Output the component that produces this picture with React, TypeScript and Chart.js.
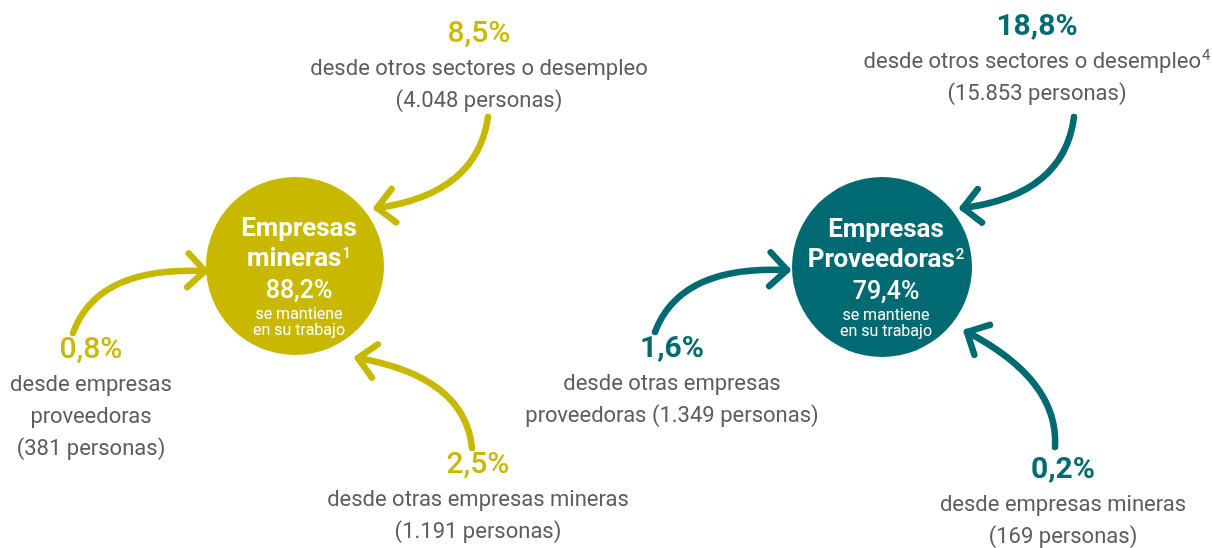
import React, { useEffect, useRef } from 'react';
import { Chart, registerables } from 'chart.js';

Chart.register(...registerables);

// ---------- data ----------
const groupTitles = ['Empresas', 'Empresas'];
const groupSubtitles = ['mineras', 'Proveedoras'];
const groupNotes = ['1', '2'];
const retainedPct = [88.2, 79.4];
const retainedLines = ['se mantiene', 'en su trabajo'];

const mineraInflowPct = [8.5, 0.8, 2.5];
const mineraInflowPeople = [4048, 381, 1191];
const mineraInflowLines = [
  ['desde otros sectores o desempleo', '({n} personas)'],
  ['desde empresas', 'proveedoras', '({n} personas)'],
  ['desde otras empresas mineras', '({n} personas)'],
];
const mineraInflowNotes = ['', '', ''];

const proveedoraInflowPct = [18.8, 1.6, 0.2];
const proveedoraInflowPeople = [15853, 1349, 169];
const proveedoraInflowLines = [
  ['desde otros sectores o desempleo', '({n} personas)'],
  ['desde otras empresas', 'proveedoras ({n} personas)'],
  ['desde empresas mineras', '({n} personas)'],
];
const proveedoraInflowNotes = ['4', '', ''];

// ---------- layout (pixel space of the 1212x548 canvas) ----------
const W = 1212;
const H = 548;
const nodeX = [295, 882];
const nodeY = [266, 267];
const nodeR = [89, 90];
const nodeTextDx = 4;
const nodeLineDy = [-30, 0, 32, 53, 69];

const labelX = [
  [479, 91, 478],
  [1037, 672, 1063],
];
const labelY = [
  [42, 358, 473],
  [35, 357, 478],
];
const arrowStart = [
  [[488, 117], [73, 333], [472, 448]],
  [[1074, 117], [655, 332], [1055, 447]],
];
const arrowCtrl = [
  [[477, 194], [97, 266], [465, 377]],
  [[1064, 195], [680, 265], [1059, 380]],
];
const arrowEnd = [
  [[377, 208], [205, 271], [358, 358]],
  [[963, 208], [787, 270], [967, 332]],
];

// ---------- styles ----------
const COLORS = ['#C8B900', '#006A72'];
const GRAY = '#5C5C5C';
const FONT = 'Roboto, "Noto Sans", "Liberation Sans", sans-serif';
const pctWeight = ['500', 'bold'];

const fmtPct = (v: number) => v.toFixed(1).replace('.', ',') + '%';
const fmtInt = (n: number) => String(n).replace(/\B(?=(\d{3})+(?!\d))/g, '.');

const groups = [
  { pct: mineraInflowPct, people: mineraInflowPeople, lines: mineraInflowLines, notes: mineraInflowNotes },
  { pct: proveedoraInflowPct, people: proveedoraInflowPeople, lines: proveedoraInflowLines, notes: proveedoraInflowNotes },
];

function drawWithSup(ctx: CanvasRenderingContext2D, text: string, sup: string, cx: number, y: number, font: string, supFont: string, supRise: number) {
  ctx.font = font;
  const w1 = ctx.measureText(text).width;
  ctx.font = supFont;
  const w2 = sup ? ctx.measureText(sup).width + 1 : 0;
  const x0 = cx - (w1 + w2) / 2;
  ctx.textAlign = 'left';
  ctx.font = font;
  ctx.fillText(text, x0, y);
  if (sup) {
    ctx.font = supFont;
    ctx.fillText(sup, x0 + w1 + 1, y - supRise);
  }
}

const infographicPlugin = {
  id: 'infographic',
  afterDatasetsDraw(chart: any) {
    const ctx: CanvasRenderingContext2D = chart.ctx;
    const sx = chart.scales.x;
    const sy = chart.scales.y;
    const X = (v: number) => sx.getPixelForValue(v);
    const Y = (v: number) => sy.getPixelForValue(v);
    ctx.save();
    ctx.textBaseline = 'alphabetic';

    groups.forEach((g, gi) => {
      const color = COLORS[gi];
      g.pct.forEach((p, fi) => {
        // arrow
        const s = arrowStart[gi][fi];
        const c = arrowCtrl[gi][fi];
        const e = arrowEnd[gi][fi];
        const sX = X(s[0]), sY = Y(s[1]);
        const cX = X(c[0]), cY = Y(c[1]);
        const eX = X(e[0]), eY = Y(e[1]);
        ctx.strokeStyle = color;
        ctx.lineWidth = 6.5;
        ctx.lineCap = 'round';
        ctx.lineJoin = 'round';
        ctx.beginPath();
        ctx.moveTo(sX, sY);
        ctx.quadraticCurveTo(cX, cY, eX, eY);
        ctx.stroke();
        const ang = Math.atan2(eY - cY, eX - cX);
        const L = 24;
        const spread = 0.78;
        ctx.beginPath();
        ctx.moveTo(eX + L * Math.cos(ang + Math.PI - spread), eY + L * Math.sin(ang + Math.PI - spread));
        ctx.lineTo(eX, eY);
        ctx.lineTo(eX + L * Math.cos(ang + Math.PI + spread), eY + L * Math.sin(ang + Math.PI + spread));
        ctx.stroke();

        // labels
        const lx = X(labelX[gi][fi]);
        const ly = Y(labelY[gi][fi]);
        ctx.fillStyle = color;
        ctx.textAlign = 'center';
        ctx.font = `${pctWeight[gi]} 30px ${FONT}`;
        ctx.fillText(fmtPct(p), lx, ly);
        ctx.fillStyle = GRAY;
        g.lines[fi].forEach((ln, li) => {
          const txt = ln.replace('{n}', fmtInt(g.people[fi]));
          const note = li === 0 ? g.notes[fi] : '';
          drawWithSup(ctx, txt, note, lx, ly + 33 + li * 32, `22px ${FONT}`, `15px ${FONT}`, 8);
        });
      });

      // node text
      const cx = X(nodeX[gi]) + nodeTextDx;
      const cy = Y(nodeY[gi]);
      ctx.fillStyle = '#FFFFFF';
      ctx.textAlign = 'center';
      ctx.font = `bold 26px ${FONT}`;
      ctx.fillText(groupTitles[gi], cx, cy + nodeLineDy[0]);
      drawWithSup(ctx, groupSubtitles[gi], groupNotes[gi], cx, cy + nodeLineDy[1], `bold 26px ${FONT}`, `500 15px ${FONT}`, 8);
      ctx.textAlign = 'center';
      ctx.font = `500 25px ${FONT}`;
      ctx.fillText(fmtPct(retainedPct[gi]), cx, cy + nodeLineDy[2]);
      ctx.font = `16px ${FONT}`;
      ctx.fillText(retainedLines[0], cx, cy + nodeLineDy[3]);
      ctx.fillText(retainedLines[1], cx, cy + nodeLineDy[4]);
    });
    ctx.restore();
  },
};

export default function App() {
  const canvasRef = useRef<HTMLCanvasElement | null>(null);

  useEffect(() => {
    if (!canvasRef.current) return;
    const chart = new Chart(canvasRef.current, {
      type: 'bubble',
      data: {
        datasets: [
          {
            data: nodeX.map((x, i) => ({ x, y: nodeY[i], r: nodeR[i] })),
            backgroundColor: COLORS,
            borderWidth: 0,
            hoverRadius: 0,
            clip: false as any,
          },
        ],
      },
      options: {
        animation: false,
        responsive: false,
        events: [],
        layout: { padding: 0, autoPadding: false },
        scales: {
          x: { type: 'linear', min: 0, max: W, display: false, grace: 0 },
          y: { type: 'linear', min: 0, max: H, reverse: true, display: false, grace: 0 },
        },
        plugins: {
          legend: { display: false },
          tooltip: { enabled: false },
          title: { display: false },
        },
      },
      plugins: [infographicPlugin],
    });
    return () => chart.destroy();
  }, []);

  return (
    <div style={{ position: 'absolute', left: 0, top: 0, width: W, height: H, background: '#fff' }}>
      <canvas ref={canvasRef} width={W} height={H} style={{ width: W, height: H, display: 'block' }} />
    </div>
  );
}
